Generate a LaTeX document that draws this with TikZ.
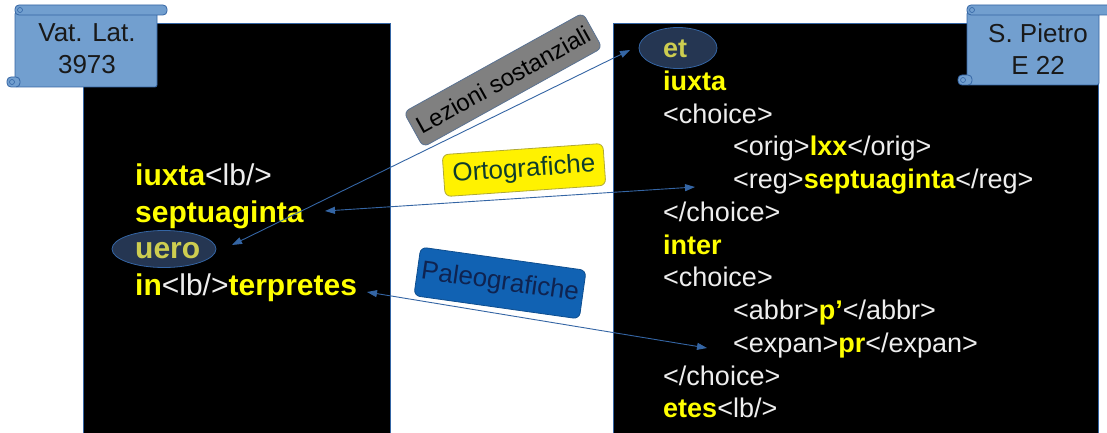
\documentclass[tikz,border=0pt]{standalone}
\usepackage{fontspec}
\setmainfont{Liberation Sans}
\usetikzlibrary{arrows.meta,shapes.geometric}

\definecolor{scrollblue}{RGB}{114,159,207}
\definecolor{edgeblue}{RGB}{52,101,164}
\definecolor{kwyellow}{RGB}{255,255,0}
\definecolor{dimyellow}{RGB}{205,205,80}
\definecolor{ovalfill}{RGB}{37,54,82}
\definecolor{tagwhite}{RGB}{238,238,238}
\definecolor{paleoblue}{RGB}{17,98,179}
\definecolor{paleotext}{RGB}{15,35,80}
\definecolor{ortotext}{RGB}{15,60,45}

\newcommand{\kw}[1]{\textbf{\color{kwyellow}#1}}

\tikzset{
  panel/.style={fill=black, draw=edgeblue, line width=0.6pt},
  scroll/.style={fill=scrollblue, draw=edgeblue, line width=0.8pt},
  leftline/.style={anchor=base west, text=tagwhite, font=\fontsize{30}{36}\selectfont, inner sep=0pt},
  rightline/.style={anchor=base west, text=tagwhite, font=\fontsize{27}{32}\selectfont, inner sep=0pt},
  oval/.style={ellipse, fill=ovalfill, draw=edgeblue, line width=0.8pt, inner sep=0pt},
  labelbox/.style={rounded corners=6pt, line width=0.8pt, inner ysep=6pt},
  link/.style={draw=edgeblue, line width=0.9pt, {Triangle[length=10pt,width=7pt]}-{Triangle[length=10pt,width=7pt]}},
}

\begin{document}
\begin{tikzpicture}[x=1pt, y=-1pt]
\useasboundingbox (0,0) rectangle (1107,433);
\fill[white] (0,0) rectangle (1107,433);

% the two panels
\draw[panel] (83,23) rectangle (390,445);
\draw[panel] (613,23) rectangle (1098,445);

% scroll on the left
\draw[scroll, rounded corners=2pt] (15,12) rectangle (157,87);
\draw[scroll, rounded corners=4pt] (15,5) rectangle (167,15);
\draw[scroll, rounded corners=4pt] (7,77) rectangle (20,87);
\draw[edgeblue, line width=0.6pt] (20,10) circle (2.5);
\draw[edgeblue, line width=0.6pt] (12,82) circle (2.5);
\node[font=\fontsize{26}{32}\selectfont, align=center, text=black!90] (vat) at (87,49) {Vat. Lat.\\3973};

% scroll on the right
\draw[scroll, rounded corners=2pt] (967,12) rectangle (1099,85);
\draw[scroll, rounded corners=4pt] (967,5) rectangle (1120,15);
\draw[scroll, rounded corners=4pt] (958,75) rectangle (972,85);
\draw[edgeblue, line width=0.6pt] (972,10) circle (2.5);
\draw[edgeblue, line width=0.6pt] (963,80) circle (2.5);
\node[font=\fontsize{26}{32}\selectfont, align=center, text=black!90] (pietro) at (1038,49) {S. Pietro\\E 22};

% left transcription
\node[oval, minimum width=104pt, minimum height=37pt] (uero-oval) at (164,249) {};
\node[leftline] (l-iuxta) at (135,185) {\kw{iuxta}<lb/>};
\node[leftline] (l-sept) at (135,222) {\kw{septuaginta}};
\node[leftline, text=dimyellow] (l-uero) at (135,258) {\textbf{uero}};
\node[leftline] (l-interp) at (135,295) {\kw{in}<lb/>\kw{terpretes}};

% right transcription
\node[oval, minimum width=78pt, minimum height=41pt] (et-oval) at (678,48) {};
\node[rightline, text=dimyellow] (r-et) at (663,57.6) {\textbf{et}};
\node[rightline] (r-iuxta) at (663,90.4) {\kw{iuxta}};
\node[rightline] (r-choice1) at (663,123.1) {<choice>};
\node[rightline] (r-orig) at (733,155.9) {<orig>\kw{lxx}</orig>};
\node[rightline] (r-reg) at (733,188.6) {<reg>\kw{septuaginta}</reg>};
\node[rightline] (r-end1) at (663,221.4) {</choice>};
\node[rightline] (r-inter) at (663,254.1) {\kw{inter}};
\node[rightline] (r-choice2) at (663,286.9) {<choice>};
\node[rightline] (r-abbr) at (733,319.6) {<abbr>\kw{p’}</abbr>};
\node[rightline] (r-expan) at (733,352.4) {<expan>\kw{pr}</expan>};
\node[rightline] (r-end2) at (663,385.1) {</choice>};
\node[rightline] (r-etes) at (663,417.9) {\kw{etes}<lb/>};

% labels
\node[labelbox, fill=black!50, draw=edgeblue!50!gray, rotate=29, inner xsep=5pt, minimum height=40pt,
  font=\fontsize{24}{28}\selectfont, text=black] (sostanziali) at (503,80) {Lezioni sostanziali};
\node[labelbox, fill=yellow, draw=olive!70, rotate=4, inner xsep=9pt, minimum height=42pt,
  font=\fontsize{26}{30}\selectfont, text=ortotext] (ortografiche) at (524,170) {Ortografiche};
\node[labelbox, fill=paleoblue, draw=paleoblue!80!black, rotate=-8, inner xsep=4pt, minimum height=49pt,
  font=\fontsize{26}{30}\selectfont, text=paleotext] (paleografiche) at (500,283) {Paleografiche};

% links
\coordinate (uero-tip) at (232,245);
\coordinate (et-tip) at (630,50);
\coordinate (sept-tip) at (325,211);
\coordinate (reg-tip) at (695,187);
\coordinate (terp-tip) at (367,292);
\coordinate (expan-tip) at (707,348);
\draw[link] (uero-tip) -- (et-tip);
\draw[link] (sept-tip) -- (reg-tip);
\draw[link] (terp-tip) -- (expan-tip);
\end{tikzpicture}
\end{document}
